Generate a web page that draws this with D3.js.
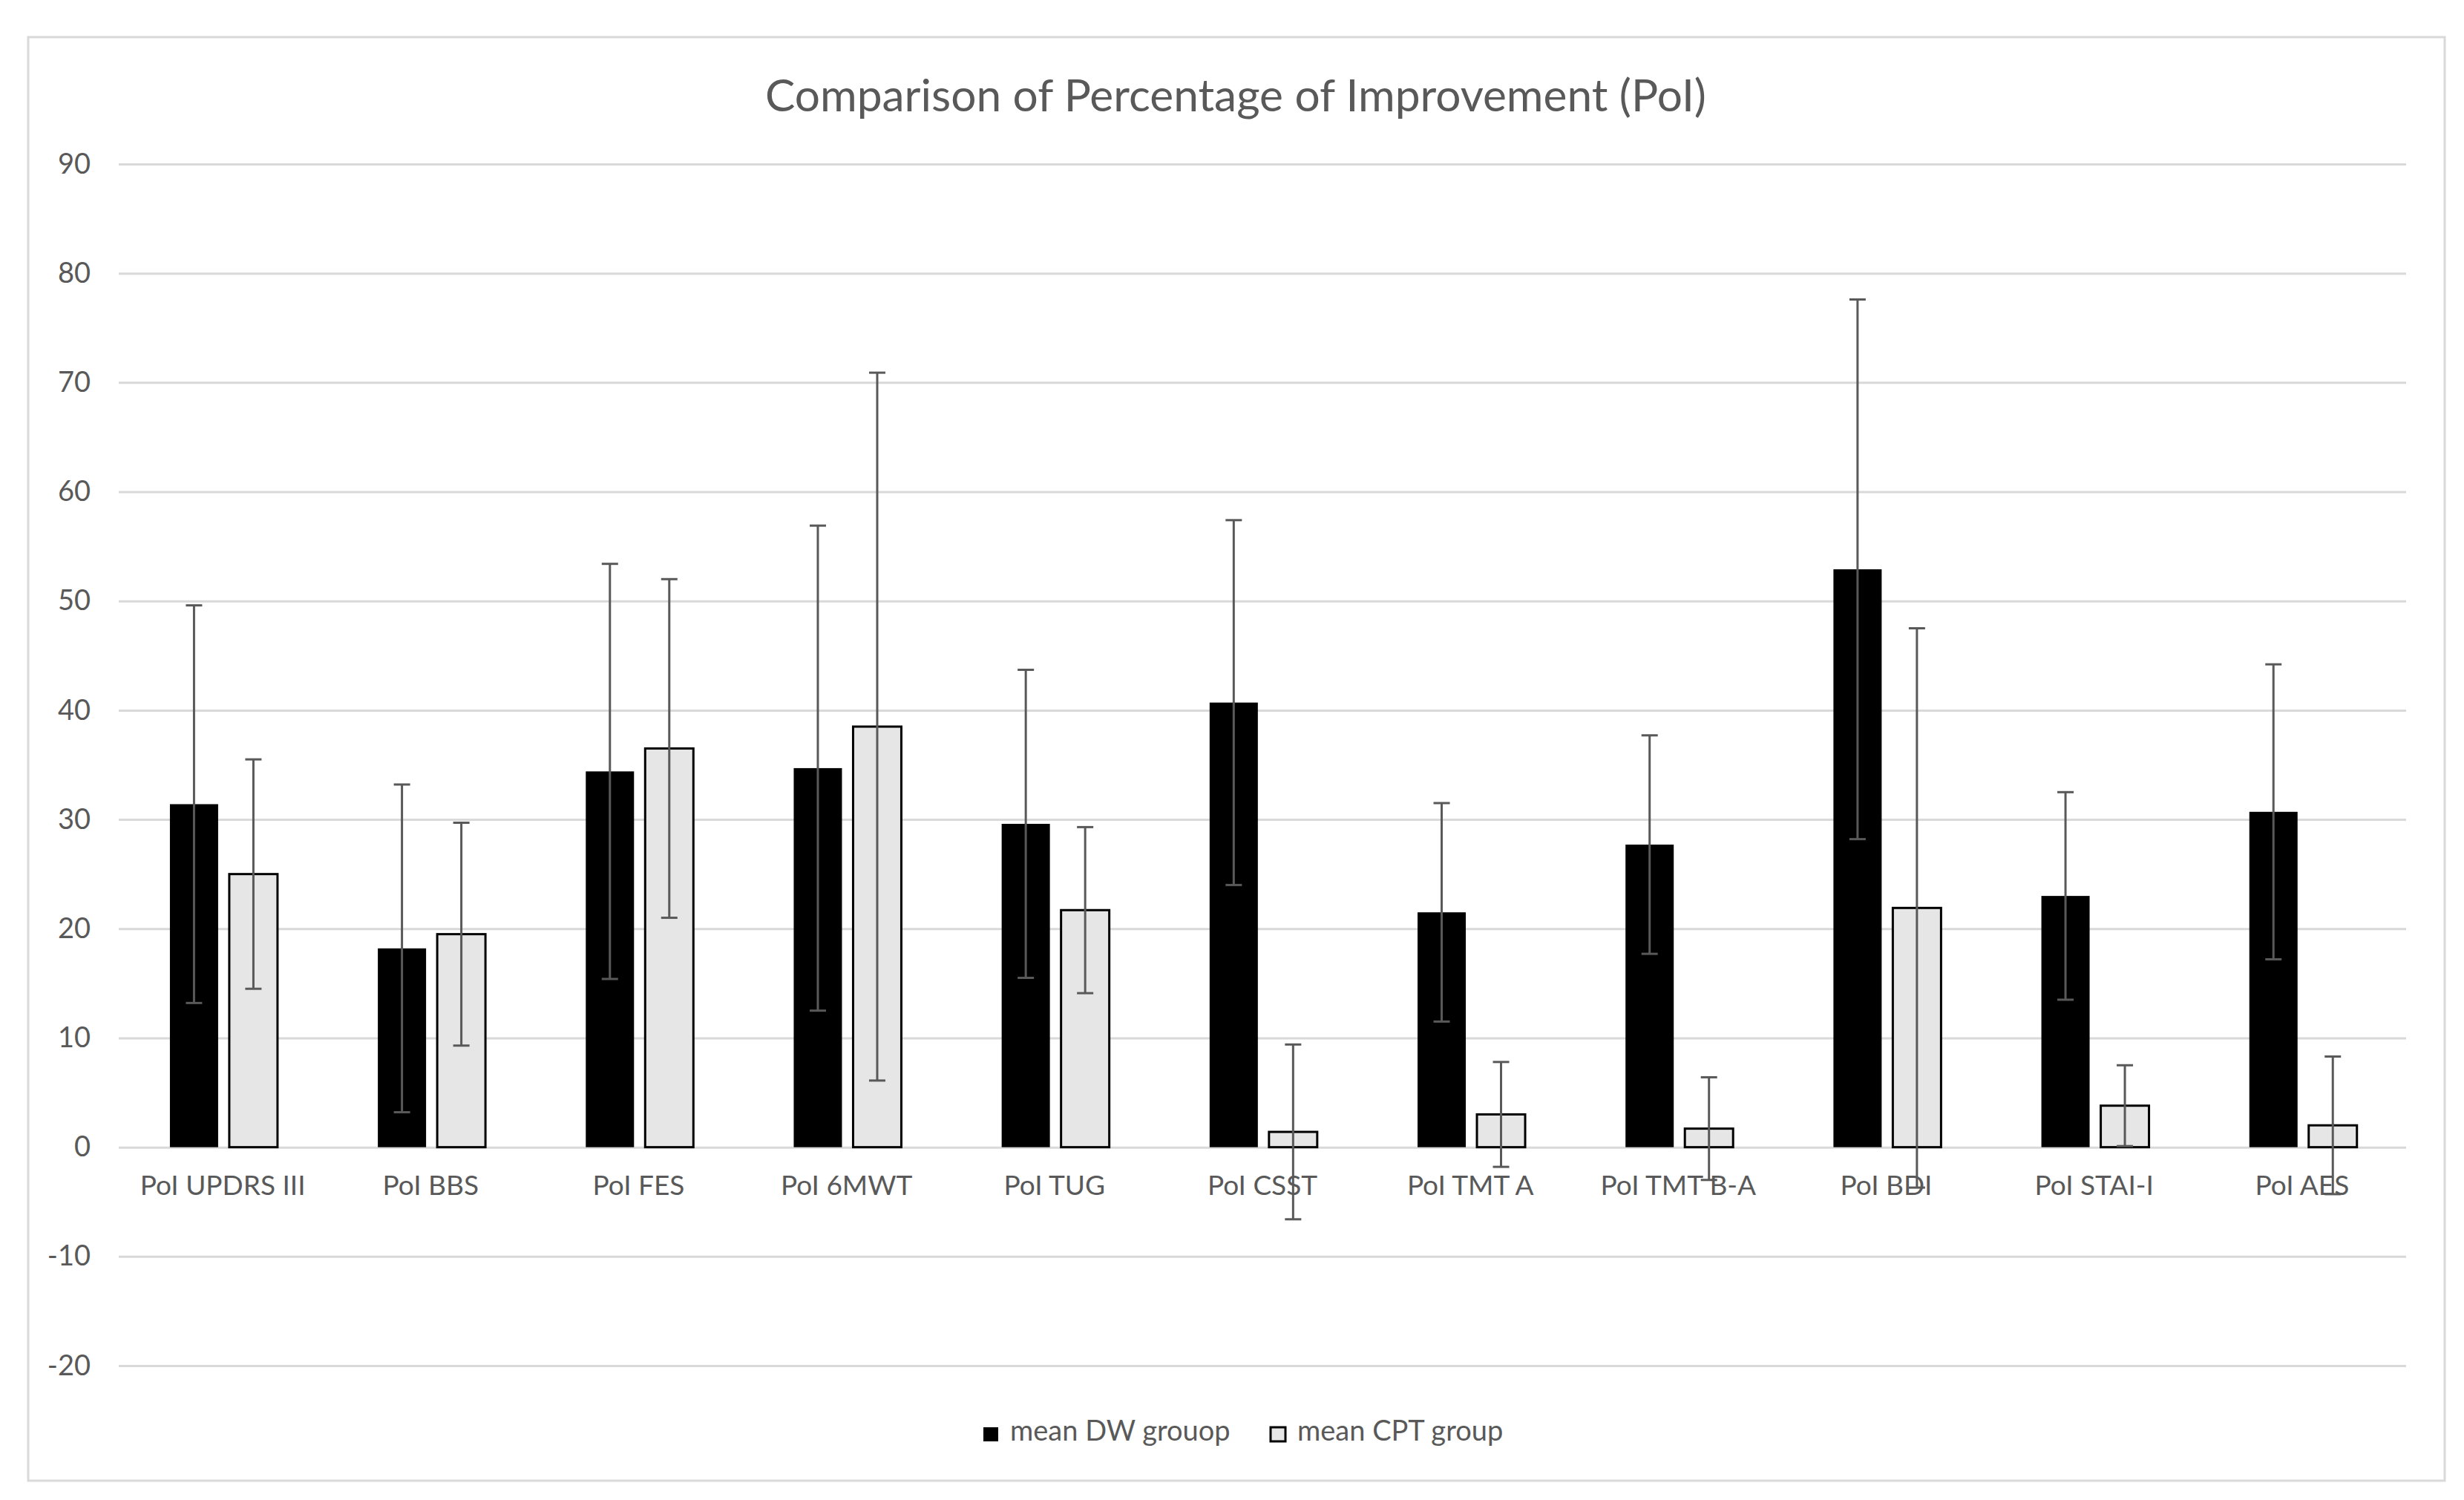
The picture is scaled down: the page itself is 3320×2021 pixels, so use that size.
<!DOCTYPE html>
<html>
<head>
<meta charset="utf-8">
<script src="https://cdn.jsdelivr.net/npm/d3@7"></script>
<style>
  body { margin: 0; background: #ffffff; }
  text { font-family: Lato, "Open Sans", sans-serif; fill: #595959; }
</style>
</head>
<body>
<div id="chart"></div>
<script>
// data
var categories = ["PoI UPDRS III", "PoI BBS", "PoI FES", "PoI 6MWT", "PoI TUG", "PoI CSST",
                  "PoI TMT A", "PoI TMT B-A", "PoI BDI", "PoI STAI-I", "PoI AES"];
var seriesNames = ["mean DW grouop", "mean CPT group"];
var dwMean = [31.4, 18.2, 34.4, 34.7, 29.6, 40.7, 21.5, 27.7, 52.9, 23.0, 30.7];
var dwErr  = [18.2, 15.0, 19.0, 22.2, 14.1, 16.7, 10.0, 10.0, 24.7,  9.5, 13.5];
var cptMean = [25.0, 19.5, 36.5, 38.5, 21.7, 1.4, 3.0, 1.7, 21.9, 3.8, 2.0];
var cptErr  = [10.5, 10.2, 15.5, 32.4,  7.6, 8.0, 4.8, 4.7, 25.6, 3.7, 6.3];
var yTicks = [-20, -10, 0, 10, 20, 30, 40, 50, 60, 70, 80, 90];

var W = 3320, H = 2021;
var plot = { left: 160, right: 3242, top: 221, bottom: 1840 };

var svg = d3.select("#chart").append("svg")
    .attr("width", W)
    .attr("height", H);

// chart border
svg.append("rect")
    .attr("x", 38).attr("y", 50)
    .attr("width", 3256).attr("height", 1945)
    .attr("fill", "#ffffff")
    .attr("stroke", "#d9d9d9")
    .attr("stroke-width", 3);

// scales
var y = d3.scaleLinear()
    .domain([-20, 90])
    .range([plot.bottom, plot.top]);

var x0 = d3.scaleBand()
    .domain(categories)
    .range([plot.left, plot.right]);

var bw = x0.bandwidth();
var x1 = d3.scaleBand()
    .domain(seriesNames)
    .range([bw * 0.246, bw * 0.7635])
    .paddingInner(0.1875);

// gridlines + y labels (plain hyphen for negatives, like the original)
var yAxis = d3.axisLeft(y)
    .tickValues(yTicks)
    .tickFormat(d => String(d))
    .tickSize(-(plot.right - plot.left))
    .tickPadding(38);

var gy = svg.append("g")
    .attr("transform", "translate(" + plot.left + ",0)")
    .call(yAxis);
gy.select(".domain").remove();
gy.selectAll(".tick line")
    .attr("stroke", "#d9d9d9")
    .attr("stroke-width", 3);
gy.selectAll(".tick text")
    .attr("font-size", 38)
    .attr("fill", "#595959")
    .style("font-family", "Lato, sans-serif");

// rows built from the arrays
var rows = categories.map(function (c, i) {
    return [
        { cat: c, s: seriesNames[0], v: dwMean[i], e: dwErr[i] },
        { cat: c, s: seriesNames[1], v: cptMean[i], e: cptErr[i] }
    ];
});
var flat = d3.merge(rows);

// bars
svg.append("g")
    .selectAll("rect")
    .data(flat)
    .enter()
    .append("rect")
    .attr("x", d => x0(d.cat) + x1(d.s))
    .attr("y", d => y(Math.max(0, d.v)))
    .attr("width", x1.bandwidth())
    .attr("height", d => Math.abs(y(d.v) - y(0)))
    .attr("fill", d => d.s === seriesNames[0] ? "#000000" : "#e7e6e6")
    .attr("stroke", d => d.s === seriesNames[0] ? "none" : "#000000")
    .attr("stroke-width", 3);

// category labels
svg.append("g")
    .selectAll("text")
    .data(categories)
    .enter()
    .append("text")
    .attr("x", d => x0(d) + bw / 2)
    .attr("y", 1610)
    .attr("text-anchor", "middle")
    .attr("font-size", 37)
    .text(d => d);

// error bars (drawn over the labels, as in the picture)
var eb = svg.append("g")
    .selectAll("g")
    .data(flat)
    .enter()
    .append("g")
    .attr("stroke", "#595959")
    .attr("stroke-width", 3);

var cx = d => x0(d.cat) + x1(d.s) + x1.bandwidth() / 2;
var cap = 11;

eb.append("line")
    .attr("x1", cx).attr("x2", cx)
    .attr("y1", d => y(d.v + d.e))
    .attr("y2", d => y(d.v - d.e));
eb.append("line")
    .attr("x1", d => cx(d) - cap).attr("x2", d => cx(d) + cap)
    .attr("y1", d => y(d.v + d.e)).attr("y2", d => y(d.v + d.e));
eb.append("line")
    .attr("x1", d => cx(d) - cap).attr("x2", d => cx(d) + cap)
    .attr("y1", d => y(d.v - d.e)).attr("y2", d => y(d.v - d.e));

// title
svg.append("text")
    .attr("x", 1665)
    .attr("y", 150)
    .attr("text-anchor", "middle")
    .attr("font-size", 60)
    .attr("textLength", 1268)
    .attr("lengthAdjust", "spacingAndGlyphs")
    .text("Comparison of Percentage of Improvement (PoI)");

// legend
var legend = svg.append("g");
var legendX = [1325, 1712];
legend.selectAll("rect")
    .data(seriesNames)
    .enter()
    .append("rect")
    .attr("x", (d, i) => legendX[i])
    .attr("y", 1923)
    .attr("width", 20)
    .attr("height", 19)
    .attr("fill", (d, i) => i === 0 ? "#000000" : "#e7e6e6")
    .attr("stroke", "#000000")
    .attr("stroke-width", (d, i) => i === 0 ? 0 : 3);
legend.selectAll("text")
    .data(seriesNames)
    .enter()
    .append("text")
    .attr("x", (d, i) => legendX[i] + 36)
    .attr("y", 1941)
    .attr("font-size", 38)
    .text(d => d);
</script>
</body>
</html>
